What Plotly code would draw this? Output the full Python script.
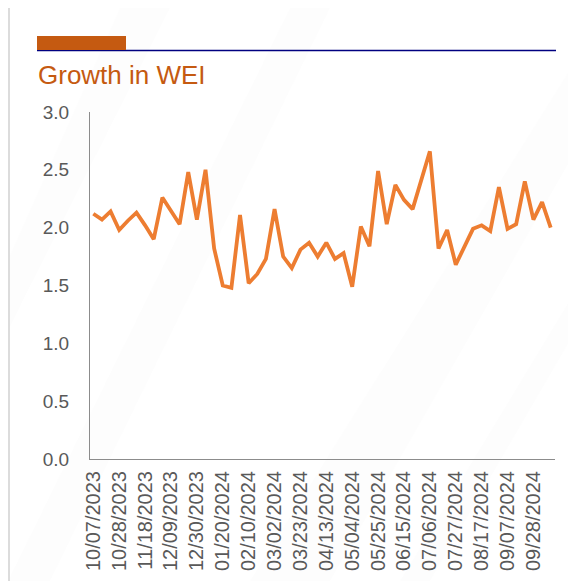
import pandas as pd
import plotly.graph_objects as go

# ---- data ----
start_date = "2023-10-07"
n_weeks = 54
dates = pd.date_range(start_date, periods=n_weeks, freq="7D")

wei_growth = [
    2.12, 2.07, 2.14, 1.98, 2.06, 2.13, 2.02, 1.90, 2.26, 2.14,
    2.03, 2.48, 2.07, 2.50, 1.82, 1.50, 1.48, 2.11, 1.52, 1.60,
    1.73, 2.16, 1.75, 1.65, 1.81, 1.87, 1.75, 1.87, 1.73, 1.78,
    1.49, 2.01, 1.84, 2.49, 2.03, 2.37, 2.24, 2.16, 2.41, 2.66,
    1.82, 1.98, 1.68, 1.84, 1.99, 2.02, 1.97, 2.35, 1.99, 2.03,
    2.40, 2.07, 2.22, 2.00,
]

tick_labels = [
    "10/07/2023", "10/28/2023", "11/18/2023", "12/09/2023", "12/30/2023",
    "01/20/2024", "02/10/2024", "03/02/2024", "03/23/2024", "04/13/2024",
    "05/04/2024", "05/25/2024", "06/15/2024", "07/06/2024", "07/27/2024",
    "08/17/2024", "09/07/2024", "09/28/2024",
]
tick_dates = pd.to_datetime(tick_labels, format="%m/%d/%Y")

y_ticks = [0.0, 0.5, 1.0, 1.5, 2.0, 2.5, 3.0]

title_text = "Growth in WEI"

# ---- styling ----
OFF = 8  # page body margin
W, H = 576 - OFF, 581 - OFF
L, R, T, B = 90 - OFF, 21, 112 - OFF, 122
pw, ph = W - L - R, H - T - B


def px_x(p):
    return (p - OFF - L) / pw


def px_y(p):
    return (H - B - (p - OFF)) / ph


FONT = "Liberation Sans, Arial, sans-serif"
LINE_COLOR = "#ED7D31"
ACCENT = "#C55A11"
AXIS_GRAY = "#8C8C8C"
LABEL_GRAY = "#595959"

fig = go.Figure()
fig.add_trace(go.Scatter(
    x=dates, y=wei_growth, mode="lines",
    line=dict(color=LINE_COLOR, width=3.8),
    hoverinfo="x+y", showlegend=False,
))

shapes = []
# faint diagonal background streaks
streaks = [
    [(8, 581), (50, 581), (330, 8), (290, 8)],
    [(250, 581), (330, 581), (576, 150), (576, 60)],
    [(400, 581), (430, 581), (576, 330), (576, 290)],
    [(8, 330), (8, 260), (120, 8), (170, 8)],
]
for poly in streaks:
    path = "M " + " L ".join(f"{px_x(x):.4f},{px_y(y):.4f}" for x, y in poly) + " Z"
    shapes.append(dict(type="path", xref="paper", yref="paper", path=path,
                       fillcolor="rgba(200,200,200,0.04)", line=dict(width=0),
                       layer="below"))
# left border of the slide
shapes.append(dict(type="line", xref="paper", yref="paper",
                   x0=px_x(9), x1=px_x(9), y0=px_y(8), y1=px_y(581),
                   line=dict(color="#D0D0D0", width=1.5)))
# header rule and accent block
shapes.append(dict(type="line", xref="paper", yref="paper",
                   x0=px_x(37), x1=px_x(556), y0=px_y(50.5), y1=px_y(50.5),
                   line=dict(color="#000080", width=1.3)))
shapes.append(dict(type="rect", xref="paper", yref="paper",
                   x0=px_x(37), x1=px_x(126), y0=px_y(50), y1=px_y(36),
                   fillcolor=ACCENT, line=dict(width=0)))

fig.update_layout(
    width=W, height=H,
    margin=dict(l=L, r=R, t=T, b=B, autoexpand=False),
    paper_bgcolor="white", plot_bgcolor="rgba(0,0,0,0)",
    font=dict(family=FONT, color=LABEL_GRAY),
    shapes=shapes,
    annotations=[dict(
        text=title_text, xref="paper", yref="paper",
        x=px_x(36), y=px_y(75), xanchor="left", yanchor="middle",
        showarrow=False, font=dict(family=FONT, size=26, color=ACCENT),
    )],
    xaxis=dict(
        type="date",
        range=[dates[0] - pd.Timedelta(days=2.7), dates[-1] + pd.Timedelta(days=3.5)],
        tickvals=tick_dates, ticktext=tick_labels, tickangle=-90,
        tickfont=dict(size=20, color=LABEL_GRAY, family=FONT),
        showgrid=False, zeroline=False,
        showline=True, linecolor=AXIS_GRAY, linewidth=1,
        ticks="", ticklabelstandoff=3,
    ),
    yaxis=dict(
        range=[0, 3.0], tickvals=y_ticks, tickformat=".1f",
        tickfont=dict(size=19, color=LABEL_GRAY, family=FONT),
        showgrid=False, zeroline=False,
        showline=True, linecolor=AXIS_GRAY, linewidth=1,
        ticks="", ticklabelstandoff=16,
    ),
)

fig.write_html("out.html")
